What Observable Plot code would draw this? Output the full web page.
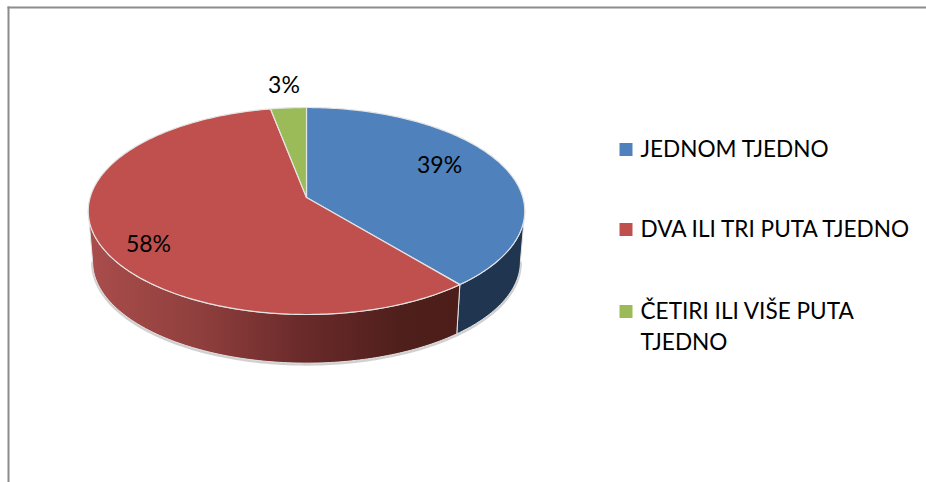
<!DOCTYPE html>
<html>
<head>
<meta charset="utf-8">
<style>
html,body{margin:0;padding:0;background:#fff}
svg{display:block}
</style>
<script src="https://cdn.jsdelivr.net/npm/d3@7"></script>
<script src="https://cdn.jsdelivr.net/npm/@observablehq/plot@0.6"></script>
</head>
<body>
<div id="chart"></div>
<script>
const categories = ["JEDNOM TJEDNO", "DVA ILI TRI PUTA TJEDNO", "ČETIRI ILI VIŠE PUTA\nTJEDNO"];
const values = [39, 58, 3];
const topColors = ["#4f81bd", "#c0504d", "#9bbb59"];
const labelRadius = [0.72, 0.815, 1.29];
const labelTurn = [-7.3, -7.1, 0];
const legendRows = [149, 229, 311];
const legendTextRows = [147, 227, 324];

const W = 926, H = 482, mL = 8, mT = 7;
const cx = 306, cy = 197, sx = 216.4, sy = 101.73;   // pie centre and pixel-per-unit
const persp = 0.1304, shrink = 0.98, depth = 51 / sy;

const total = d3.sum(values);
const cum = d3.cumsum(values);
const ends = Array.from(cum, c => c / total * 360);
const starts = [0, ...ends.slice(0, -1)];

function project(deg, r = 1) {
  const a = deg * Math.PI / 180, u = r * Math.sin(a), v = r * Math.cos(a), w = 1 + persp * v;
  return {x: u / w, y: v / w};
}
const lower = p => ({x: p.x * shrink, y: p.y * shrink - depth});
const arc = (a, b) => d3.range(a, b, 1).concat(b).map(d => project(d));
const wedge = (a, b) => [{x: 0, y: 0}, ...arc(a, b), {x: 0, y: 0}];
const wall = (a, b) => {
  const rim = arc(a, b);
  return [...rim, ...rim.slice().reverse().map(lower), rim[0]];
};

const XY = {x: "x", y: "y"};
const edge = "#e4e4e4";
const rightTurn = 97.5, leftTurn = 262.5;  // where the rim meets the disc's silhouette

const gradient = () => {
  const defs = d3.create("svg:defs");
  const g = defs.append("linearGradient").attr("id", "redSide")
    .attr("gradientUnits", "userSpaceOnUse")
    .attr("x1", 90).attr("x2", 456).attr("y1", 0).attr("y2", 0);
  [[0, "#a94d4b"], [0.3, "#8f3f3d"], [0.58, "#6a2a2a"], [0.85, "#4f1f1c"], [1, "#4d1d1a"]]
    .forEach(([o, c]) => g.append("stop").attr("offset", o).attr("stop-color", c));
  return defs.node();
};

const plot = Plot.plot({
  width: W, height: H,
  marginLeft: mL, marginTop: mT, marginRight: 0, marginBottom: 0,
  style: {background: "#fff", fontFamily: "Lato, sans-serif"},
  x: {domain: [(mL - cx) / sx, (W - cx) / sx], range: [mL, W], axis: null},
  y: {domain: [(cy - mT) / sy, (cy - H) / sy], range: [mT, H], axis: null},
  marks: [
    gradient,
    Plot.frame({anchor: "left", stroke: "#8c8c8c", strokeWidth: 2}),
    Plot.frame({anchor: "top", stroke: "#8c8c8c", strokeWidth: 2}),
    // soft edge under the disc
    Plot.line(arc(rightTurn, leftTurn).map(lower), {...XY, stroke: "#c4c4c4", strokeWidth: 3, dy: 1, strokeOpacity: 0.8}),
    // side walls
    Plot.line(wall(rightTurn, ends[0]), {...XY, fill: "#1f3550", stroke: edge, strokeWidth: 1}),
    Plot.line(wall(ends[0], leftTurn), {...XY, fill: "url(#redSide)", stroke: edge, strokeWidth: 1}),
    // top faces
    ...values.map((v, i) => Plot.line(wedge(starts[i], ends[i]), {
      ...XY, fill: topColors[i], stroke: edge, strokeWidth: 1.2, strokeLinejoin: "round"
    })),
    // percentage labels
    Plot.text(values, {
      x: (v, i) => project((starts[i] + ends[i]) / 2 + labelTurn[i], labelRadius[i]).x,
      y: (v, i) => project((starts[i] + ends[i]) / 2 + labelTurn[i], labelRadius[i]).y,
      text: v => `${v}%`,
      fontSize: 23, fill: "#000"
    }),
    // legend
    ...categories.map((c, i) => Plot.dot([c], {
      frameAnchor: "top-left", dx: 625.5 - mL, dy: legendRows[i] - mT,
      symbol: "square", r: 7.33, fill: topColors[i], stroke: "none"
    })),
    ...categories.map((c, i) => Plot.text([c], {
      frameAnchor: "top-left", dx: 640 - mL, dy: legendTextRows[i] - mT,
      text: d => d, textAnchor: "start", lineAnchor: "middle",
      lineHeight: 1.37, fontSize: 22.6, fill: "#000"
    }))
  ]
});
document.getElementById("chart").appendChild(plot);
</script>
</body>
</html>
